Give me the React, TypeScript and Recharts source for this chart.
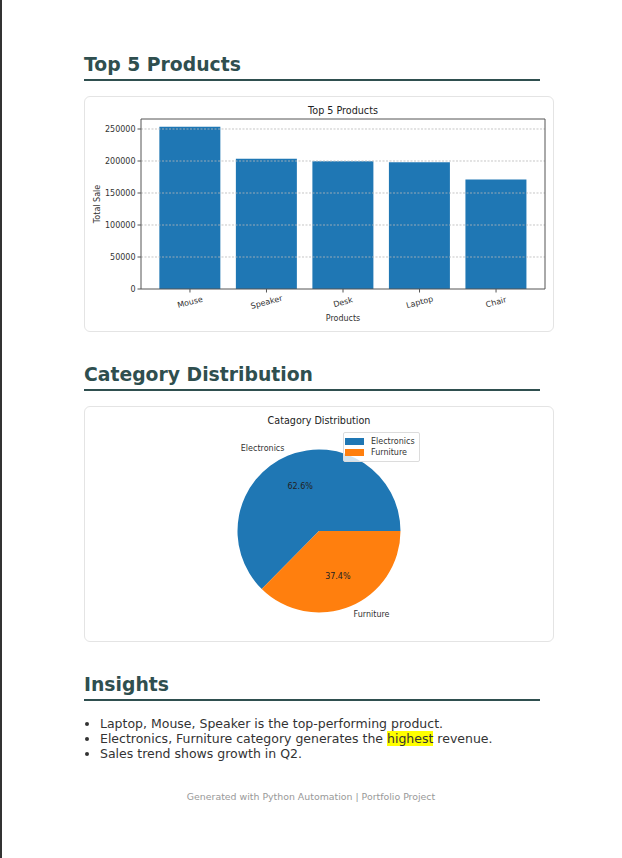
import React from "react";
import {
  BarChart,
  Bar,
  XAxis,
  YAxis,
  ReferenceLine,
  Label,
  PieChart,
  Pie,
  Cell,
  Legend,
} from "recharts";

const products = ["Mouse", "Speaker", "Desk", "Laptop", "Chair"];
const totalSales = [253600, 203400, 199800, 198200, 171000];
const saleTicks = [0, 50000, 100000, 150000, 200000, 250000];
const saleMax = 265650;

const categories = ["Electronics", "Furniture"];
const categoryShares = [62.6, 37.4];
const categoryColors = ["#1f77b4", "#ff7f0e"];

const insights = [
  ["Laptop, Mouse, Speaker is the top-performing product."],
  ["Electronics, Furniture category generates the ", "highest", " revenue."],
  ["Sales trend shows growth in Q2."],
];

const FONT = "'DejaVu Sans', sans-serif";
const HEAD = "#2f4f4f";
const CHART_W = 470;
const CHART_H = 236;
const barMargin = { top: 23, right: 9, left: 0, bottom: 0 };

const barData = products.map((name, i) => ({ name, total: totalSales[i] }));
const pieData = categories.map((name, i) => ({ name, value: categoryShares[i] }));

const RADIAN = Math.PI / 180;

function XTick({ x, y, payload }: any) {
  return (
    <g transform={`translate(${x},${y + 7.5}) rotate(-15)`}>
      <text textAnchor="middle" dy="0.35em" fontSize={8} fill="#333" fontFamily={FONT}>
        {payload.value}
      </text>
    </g>
  );
}

function PieLabel({ cx, cy, midAngle, outerRadius, percent, name }: any) {
  const cos = Math.cos(-midAngle * RADIAN);
  const sin = Math.sin(-midAngle * RADIAN);
  const ox = cx + outerRadius * 1.1 * cos;
  const oy = cy + outerRadius * 1.1 * sin;
  const ix = cx + outerRadius * 0.6 * cos;
  const iy = cy + outerRadius * 0.6 * sin;
  return (
    <g fontFamily={FONT} fontSize={8}>
      <text x={ox} y={oy} dy="0.35em" textAnchor={cos < 0 ? "end" : "start"} fill="#333">
        {name}
      </text>
      <text x={ix} y={iy} dy="0.35em" textAnchor="middle" fill="#222">
        {`${(percent * 100).toFixed(1)}%`}
      </text>
    </g>
  );
}

function PieLegend({ payload }: any) {
  return (
    <div
      style={{
        border: "1px solid #dcdcdc",
        borderRadius: 2,
        background: "rgba(255,255,255,0.8)",
        padding: "3px 4px 3px 1px",
        fontFamily: FONT,
        fontSize: 8,
        color: "#333",
      }}
    >
      {(payload || []).map((p: any) => (
        <div key={p.value} style={{ display: "flex", alignItems: "center", height: 11 }}>
          <span style={{ width: 19, height: 6.5, background: p.color, marginRight: 7 }} />
          <span style={{ lineHeight: "11px" }}>{p.value}</span>
        </div>
      ))}
    </div>
  );
}

function Heading({ top, text }: { top: number; text: string }) {
  return (
    <div style={{ position: "absolute", left: 84, top, width: 456 }}>
      <div style={{ fontFamily: FONT, fontWeight: 700, fontSize: 18.8, color: HEAD, lineHeight: "22px", paddingTop: 1 }}>
        {text}
      </div>
      <div style={{ height: 2, background: HEAD, marginTop: 3 }} />
    </div>
  );
}

const card: React.CSSProperties = {
  position: "absolute",
  left: 84,
  width: CHART_W,
  height: CHART_H,
  boxSizing: "border-box",
  border: "1px solid #e4e4e4",
  borderRadius: 6,
};

export default function App() {
  return (
    <div style={{ position: "absolute", left: 0, top: 0, width: 622, height: 858, background: "#fff", overflow: "hidden" }}>
      <div style={{ position: "absolute", left: 0, top: 0, width: 2, height: 858, background: "#333" }} />

      <Heading top={53} text="Top 5 Products" />
      <div style={{ ...card, top: 96 }} />
      <div style={{ position: "absolute", left: 84, top: 96, width: CHART_W, height: CHART_H }}>
        <div
          style={{
            position: "absolute",
            left: 57,
            width: 404,
            top: 9,
            textAlign: "center",
            fontFamily: FONT,
            fontSize: 9.6,
            color: "#222",
            lineHeight: "12px",
          }}
        >
          Top 5 Products
        </div>
        <BarChart width={CHART_W} height={CHART_H} data={barData} margin={barMargin} barCategoryGap="10%">
          <XAxis
            dataKey="name"
            height={43}
            padding={{ left: 10.7, right: 10.7 }}
            tick={<XTick />}
            tickSize={3.5}
            stroke="#555"
            interval={0}
          >
            <Label value="Products" position="insideBottom" offset={11} style={{ fontSize: 8, fill: "#333", fontFamily: FONT }} />
          </XAxis>
          <YAxis
            width={57}
            domain={[0, saleMax]}
            ticks={saleTicks}
            tickSize={3.5}
            stroke="#555"
            tick={{ fontSize: 8, fill: "#333", fontFamily: FONT }}
          >
            <Label
              value="Total Sale"
              angle={-90}
              position="insideLeft"
              offset={13}
              style={{ fontSize: 8, fill: "#333", fontFamily: FONT, textAnchor: "middle" }}
            />
          </YAxis>
          <Bar dataKey="total" fill="#1f77b4" isAnimationActive={false} />
          {saleTicks.slice(1).map((t) => (
            <ReferenceLine key={t} y={t} stroke="#b8b8b8" strokeOpacity={0.8} strokeDasharray="2 1.5" />
          ))}
          {/* top and right spines */}
          <ReferenceLine y={saleMax} stroke="#555" />
          <ReferenceLine
            segment={[
              { x: products[products.length - 1], y: 0 },
              { x: products[products.length - 1], y: saleMax },
            ]}
            stroke="none"
            label={(p: any) => {
              const vb = p.viewBox || {};
              const xr = CHART_W - barMargin.right;
              return <line x1={xr} x2={xr} y1={vb.y} y2={vb.y + vb.height} stroke="#555" />;
            }}
          />
        </BarChart>
      </div>

      <Heading top={363} text="Category Distribution" />
      <div style={{ ...card, top: 406 }} />
      <div style={{ position: "absolute", left: 84, top: 406, width: CHART_W, height: CHART_H }}>
        <div
          style={{
            position: "absolute",
            left: 0,
            width: CHART_W,
            top: 9,
            textAlign: "center",
            fontFamily: FONT,
            fontSize: 9.6,
            color: "#222",
            lineHeight: "12px",
          }}
        >
          Catagory Distribution
        </div>
        <PieChart width={CHART_W} height={CHART_H} margin={{ top: 0, right: 0, left: 0, bottom: 0 }}>
          <Pie
            data={pieData}
            dataKey="value"
            nameKey="name"
            cx={235}
            cy={125}
            outerRadius={81.5}
            startAngle={0}
            endAngle={360}
            stroke="none"
            label={PieLabel}
            labelLine={false}
            isAnimationActive={false}
          >
            {pieData.map((d, i) => (
              <Cell key={d.name} fill={categoryColors[i]} />
            ))}
          </Pie>
          <Legend content={<PieLegend />} wrapperStyle={{ left: 259, top: 26, width: "auto", bottom: "auto" }} />
        </PieChart>
      </div>

      <Heading top={673} text="Insights" />
      <ul
        style={{
          position: "absolute",
          left: 84,
          top: 715.5,
          margin: 0,
          paddingLeft: 16,
          fontFamily: FONT,
          fontSize: 12.5,
          color: "#333",
        }}
      >
        {insights.map((parts, i) => (
          <li key={i} style={{ lineHeight: "15px", height: 15 }}>
            {parts.map((p, j) =>
              p === "highest" ? (
                <span key={j} style={{ background: "#ffff00" }}>
                  {p}
                </span>
              ) : (
                <span key={j}>{p}</span>
              )
            )}
          </li>
        ))}
      </ul>

      <div
        style={{
          position: "absolute",
          left: 0,
          width: 622,
          top: 791,
          textAlign: "center",
          fontFamily: FONT,
          fontSize: 9.4,
          color: "#999",
          lineHeight: "12px",
        }}
      >
        Generated with Python Automation | Portfolio Project
      </div>
    </div>
  );
}
